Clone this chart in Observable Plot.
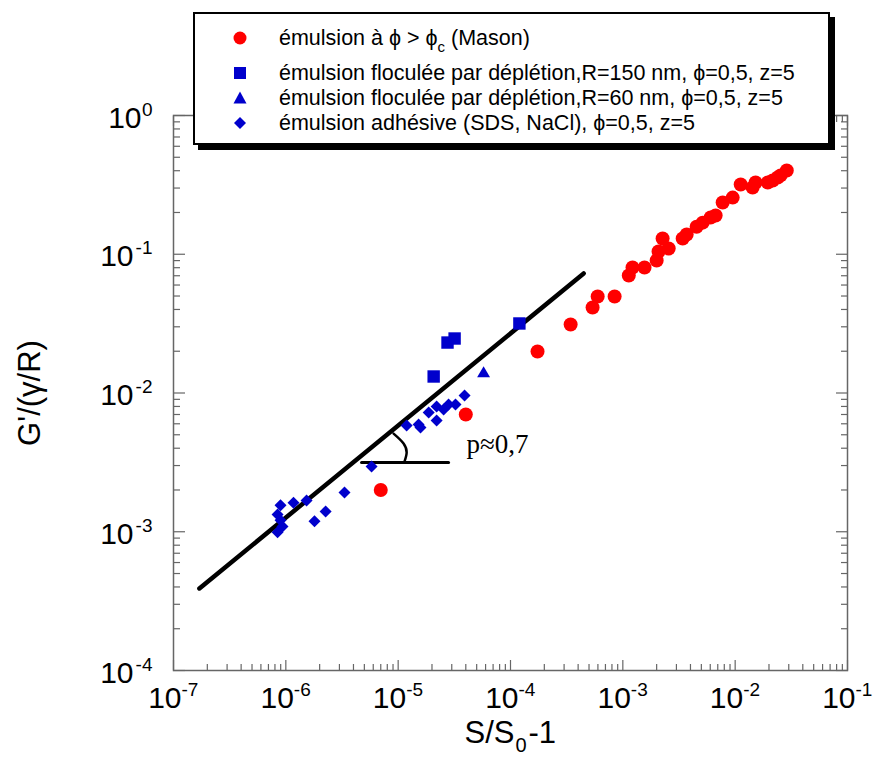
<!DOCTYPE html>
<html>
<head>
<meta charset="utf-8">
<script src="https://cdn.jsdelivr.net/npm/d3@7"></script>
<script src="https://cdn.jsdelivr.net/npm/@observablehq/plot@0.6"></script>
<style>
  html, body { margin: 0; padding: 0; background: #fff; }
  #wrap { position: relative; width: 874px; height: 758px; overflow: hidden; }
  #wrap svg.plot { position: absolute; left: 0; top: 0; }
  #legend { position: absolute; left: 193px; top: 12px; width: 633px; height: 129px;
    border: 2px solid #000; box-shadow: 5px 5px 0 #000; background: #fff;
    font-family: "Liberation Sans", Arial, sans-serif; font-size: 21.5px; color: #000; }
  .row { position: absolute; left: 0; height: 24px; line-height: 24px; white-space: nowrap; }
  .row svg { position: absolute; left: 37px; top: 4px; }
  .row span { position: absolute; left: 84px; top: 0; }
  sub { font-size: 15px; vertical-align: -7px; line-height: 0; }
</style>
</head>
<body>
<div id="wrap"></div>
<script>
// ---- Data ----
// Emulsion phi > phi_c (Mason) — red circles
const masonX = [7.0e-6, 4.0e-5, 1.74e-4, 3.43e-4, 5.38e-4, 5.97e-4, 8.45e-4, 1.13e-3, 1.22e-3, 1.56e-3,
  2.0e-3, 2.08e-3, 2.56e-3, 2.26e-3, 3.41e-3, 3.70e-3, 4.54e-3, 5.14e-3, 6.05e-3, 6.70e-3,
  7.74e-3, 9.5e-3, 0.0112, 0.0143, 0.0152, 0.0195, 0.0216, 0.0239, 0.0254, 0.0288];
const masonY = [2.0e-3, 7.0e-3, 0.0199, 0.0312, 0.0413, 0.0496, 0.0496, 0.0703, 0.0802, 0.0802,
  0.0902, 0.1047, 0.110, 0.130, 0.130, 0.1388, 0.158, 0.169, 0.184, 0.190,
  0.236, 0.256, 0.318, 0.303, 0.329, 0.329, 0.340, 0.357, 0.370, 0.401];
// Depletion-flocculated emulsion R=150 nm — blue squares
const r150X = [1.2e-4, 2.75e-5, 3.18e-5, 2.07e-5];
const r150Y = [0.0317, 0.0231, 0.0247, 0.01315];
// Depletion-flocculated emulsion R=60 nm — blue triangle
const r60X = [5.76e-5];
const r60Y = [0.0138];
// Adhesive emulsion (SDS, NaCl) — blue diamonds
const adhX = [3.9e-5, 3.24e-5, 2.81e-5, 2.54e-5, 2.2e-5, 2.2e-5, 1.87e-5, 1.58e-5, 1.52e-5, 1.19e-5,
  5.8e-6, 3.33e-6, 2.26e-6, 1.8e-6, 1.53e-6, 1.17e-6, 8.97e-7, 8.44e-7, 8.97e-7, 9.34e-7, 8.44e-7];
const adhY = [9.6e-3, 8.26e-3, 8.26e-3, 7.6e-3, 8.0e-3, 6.34e-3, 7.23e-3, 5.64e-3, 5.93e-3, 5.83e-3,
  2.95e-3, 1.92e-3, 1.40e-3, 1.19e-3, 1.68e-3, 1.62e-3, 1.55e-3, 1.33e-3, 1.21e-3, 1.09e-3, 9.9e-4];
// Power-law guide line
const fitX = [1.7e-7, 4.48e-4];
const fitY = [3.9e-4, 0.0727];
// Slope triangle (horizontal base + arc)
const baseX = [4.72e-6, 2.81e-5];
const baseY = [3.16e-3, 3.16e-3];
const arcX = [9.1e-6, 1.117e-5, 1.19e-5, 1.14e-5];
const arcY = [5.1e-3, 4.33e-3, 3.72e-3, 3.21e-3];
const slopeLabel = ["p≈0,7"];
const slopeLabelX = [4.06e-5];
const slopeLabelY = [3.72e-3];
// Axes
const xTickValues = [1e-7, 1e-6, 1e-5, 1e-4, 1e-3, 1e-2, 1e-1];
const xTickExp = ["-7", "-6", "-5", "-4", "-3", "-2", "-1"];
const yTickValues = [1e-4, 1e-3, 1e-2, 1e-1, 1];
const yTickExp = ["-4", "-3", "-2", "-1", "0"];
const xTitle = ["S/S", "0", "-1"];
const yTitle = "G'/(γ/R)";
// Legend
const legendLabels = [
  "émulsion à ϕ > ϕ<sub>c</sub> (Mason)",
  "émulsion floculée par déplétion,R=150 nm, ϕ=0,5, z=5",
  "émulsion floculée par déplétion,R=60 nm, ϕ=0,5, z=5",
  "émulsion adhésive (SDS, NaCl), ϕ=0,5, z=5"
];
const legendSymbols = ["circle", "square", "triangle", "diamond"];
const legendColors = ["#ff0000", "#0000cc", "#0000cc", "#0000cc"];

const RED = "#ff0000", BLUE = "#0000cc", AX = "#666";
const zip = (xs, ys) => xs.map((x, i) => ({x, y: ys[i]}));

// minor tick positions
const minorX = [], minorY = [];
for (let e = -7; e < -1; e++) for (let m = 2; m <= 9; m++) minorX.push(m * Math.pow(10, e));
for (let e = -4; e < 0; e++) for (let m = 2; m <= 9; m++) minorY.push(m * Math.pow(10, e));

const font = "Liberation Sans, Arial, sans-serif";
const yNeg = yTickValues.map((v, i) => ({v, e: yTickExp[i]})).filter(d => d.e !== "0");
const yZero = yTickValues.map((v, i) => ({v, e: yTickExp[i]})).filter(d => d.e === "0");
const tickOpts = {tickFormat: () => "", label: null, stroke: AX, strokeWidth: 1.2};

const chart = Plot.plot({
  width: 874, height: 758,
  marginLeft: 173, marginRight: 27, marginTop: 115, marginBottom: 88,
  style: {fontFamily: font, background: "transparent", color: "#000"},
  x: {type: "log", domain: [1e-7, 1e-1], axis: null},
  y: {type: "log", domain: [1e-4, 1], axis: null},
  marks: [
    // ticks (inward) on all four sides
    Plot.axisX(xTickValues, {anchor: "bottom", tickSize: -10, ...tickOpts}),
    Plot.axisX(minorX, {anchor: "bottom", tickSize: -6, ...tickOpts}),
    Plot.axisX(xTickValues, {anchor: "top", tickSize: -10, ...tickOpts}),
    Plot.axisX(minorX, {anchor: "top", tickSize: -6, ...tickOpts}),
    Plot.axisY(yTickValues, {anchor: "left", tickSize: -12, ...tickOpts}),
    Plot.axisY(minorY, {anchor: "left", tickSize: -7, ...tickOpts}),
    Plot.axisY(yTickValues, {anchor: "right", tickSize: -12, ...tickOpts}),
    Plot.axisY(minorY, {anchor: "right", tickSize: -7, ...tickOpts}),
    Plot.frame({stroke: AX, strokeWidth: 1.5}),
    // x tick labels
    Plot.text(xTickValues, {x: d => d, frameAnchor: "bottom", text: () => "10", textAnchor: "end",
      lineAnchor: "bottom", dx: 8, dy: 37, fontSize: 30}),
    Plot.text(xTickExp, {x: (d, i) => xTickValues[i], frameAnchor: "bottom", text: d => d, textAnchor: "start",
      lineAnchor: "bottom", dx: 8, dy: 25, fontSize: 19}),
    // y tick labels
    Plot.text(yNeg, {y: "v", frameAnchor: "left", text: () => "10", textAnchor: "end",
      lineAnchor: "bottom", dx: -40, dy: 12, fontSize: 30}),
    Plot.text(yNeg, {y: "v", frameAnchor: "left", text: "e", textAnchor: "end",
      lineAnchor: "bottom", dx: -21, dy: 0, fontSize: 19}),
    Plot.text(yZero, {y: "v", frameAnchor: "left", text: () => "10", textAnchor: "end",
      lineAnchor: "bottom", dx: -32, dy: 12, fontSize: 30}),
    Plot.text(yZero, {y: "v", frameAnchor: "left", text: "e", textAnchor: "end",
      lineAnchor: "bottom", dx: -21, dy: 0, fontSize: 19}),
    // axis titles
    Plot.text([xTitle[0]], {frameAnchor: "bottom", text: d => d, textAnchor: "end", lineAnchor: "bottom", dx: 4, dy: 72, fontSize: 31}),
    Plot.text([xTitle[1]], {frameAnchor: "bottom", text: d => d, textAnchor: "start", lineAnchor: "bottom", dx: 5, dy: 81, fontSize: 20}),
    Plot.text([xTitle[2]], {frameAnchor: "bottom", text: d => d, textAnchor: "start", lineAnchor: "bottom", dx: 18, dy: 72, fontSize: 31}),
    Plot.text([yTitle], {frameAnchor: "left", text: d => d, textAnchor: "middle", lineAnchor: "middle", rotate: -90, dx: -143, dy: 0, fontSize: 31}),
    // guide line and slope annotation
    Plot.line(zip(fitX, fitY), {x: "x", y: "y", stroke: "#000", strokeWidth: 4.5}),
    Plot.line(zip(baseX, baseY), {x: "x", y: "y", stroke: "#000", strokeWidth: 3}),
    Plot.line(zip(arcX, arcY), {x: "x", y: "y", stroke: "#000", strokeWidth: 2.5, curve: "natural"}),
    Plot.text(slopeLabel, {x: (d, i) => slopeLabelX[i], y: (d, i) => slopeLabelY[i], text: d => d,
      textAnchor: "start", lineAnchor: "bottom", fontFamily: "Liberation Serif, Times New Roman, serif", fontSize: 27}),
    // data
    Plot.dot(zip(adhX, adhY), {x: "x", y: "y", symbol: "diamond2", r: 5.4, fill: BLUE, stroke: "none"}),
    Plot.dot(zip(r60X, r60Y), {x: "x", y: "y", symbol: "triangle", r: 4.8, fill: BLUE, stroke: "none"}),
    Plot.dot(zip(r150X, r150Y), {x: "x", y: "y", symbol: "square", r: 7, fill: BLUE, stroke: "none"}),
    Plot.dot(zip(masonX, masonY), {x: "x", y: "y", symbol: "circle", r: 7, fill: RED, stroke: "none"})
  ]
});
chart.classList.add("plot");
const wrap = document.getElementById("wrap");
wrap.appendChild(chart);

// legend (HTML overlay)
const legend = document.createElement("div");
legend.id = "legend";
const rowTops = [12, 47, 72, 97];
const shapes = {
  circle: c => `<circle cx="8" cy="8" r="6.5" fill="${c}"/>`,
  square: c => `<rect x="2" y="2" width="12" height="12" fill="${c}"/>`,
  triangle: c => `<path d="M8,1.5 L14.5,13.5 L1.5,13.5 Z" fill="${c}"/>`,
  diamond: c => `<path d="M8,2 L14,8 L8,14 L2,8 Z" fill="${c}"/>`
};
legendLabels.forEach((lab, i) => {
  const row = document.createElement("div");
  row.className = "row";
  row.style.top = rowTops[i] + "px";
  row.innerHTML = `<svg width="16" height="16">${shapes[legendSymbols[i]](legendColors[i])}</svg><span>${lab}</span>`;
  legend.appendChild(row);
});
wrap.appendChild(legend);
</script>
</body>
</html>
